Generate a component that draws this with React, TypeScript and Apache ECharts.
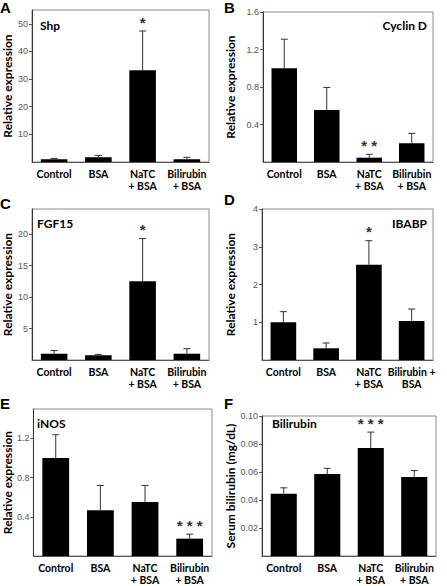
import React, { useEffect, useRef } from "react";
import * as echarts from "echarts";

const categories = ["Control", "BSA", "NaTC\n+ BSA", "Bilirubin\n+ BSA"];
const categoriesD = ["Control", "BSA", "NaTC\n+ BSA", "Bilirubin +\nBSA"];

const shpMean = [1.0, 1.7, 33.2, 1.0];
const shpErr = [0.3, 0.7, 14.2, 0.7];
const shpSig = ["", "", "*", ""];

const cyclinMean = [1.0, 0.555, 0.046, 0.2];
const cyclinErr = [0.31, 0.24, 0.036, 0.106];
const cyclinSig = ["", "", "* *", ""];

const fgfMean = [1.0, 0.75, 12.5, 1.0];
const fgfErr = [0.5, 0.15, 6.8, 0.8];
const fgfSig = ["", "", "*", ""];

const ibabpMean = [1.0, 0.31, 2.52, 1.03];
const ibabpErr = [0.28, 0.14, 0.64, 0.32];
const ibabpSig = ["", "", "*", ""];

const inosMean = [1.0, 0.467, 0.55, 0.177];
const inosErr = [0.237, 0.253, 0.17, 0.046];
const inosSig = ["", "", "", "* * *"];

const biliMean = [0.0445, 0.0586, 0.0772, 0.0565];
const biliErr = [0.0042, 0.004, 0.0113, 0.0045];
const biliSig = ["", "", "* * *", ""];

const panels = [
  { letter: "A", gene: "Shp", geneAlign: "left", cats: categories, mean: shpMean, err: shpErr, sig: shpSig,
    grid: { left: 31, top: 10, width: 178, height: 152 }, max: 55, interval: 10, dec: 0, showMax: false,
    yName: "Relative expression", nameGap: 19, letterPos: [0, 0], genePos: [40, 25] },
  { letter: "B", gene: "Cyclin D", geneAlign: "right", cats: categories, mean: cyclinMean, err: cyclinErr, sig: cyclinSig,
    grid: { left: 263, top: 12, width: 170, height: 150 }, max: 1.6, interval: 0.4, dec: 1, showMax: true,
    yName: "Relative expression", nameGap: 27, letterPos: [224, 0], genePos: [427, 25] },
  { letter: "C", gene: "FGF15", geneAlign: "left", cats: categories, mean: fgfMean, err: fgfErr, sig: fgfSig,
    grid: { left: 31, top: 209, width: 178, height: 151 }, max: 24, interval: 5, dec: 0, showMax: false,
    yName: "Relative expression", nameGap: 19, letterPos: [0, 196], genePos: [37, 223] },
  { letter: "D", gene: "IBABP", geneAlign: "right", cats: categoriesD, mean: ibabpMean, err: ibabpErr, sig: ibabpSig,
    grid: { left: 262, top: 209, width: 171, height: 151 }, max: 4, interval: 1, dec: 0, showMax: true,
    yName: "Relative expression", nameGap: 26, letterPos: [224, 192], genePos: [427, 223] },
  { letter: "E", gene: "iNOS", geneAlign: "left", cats: categories, mean: inosMean, err: inosErr, sig: inosSig,
    grid: { left: 31, top: 409, width: 181, height: 150 }, max: 1.5, interval: 0.4, dec: 1, showMax: false,
    yName: "Relative expression", nameGap: 19, letterPos: [0, 396], genePos: [37, 423] },
  { letter: "F", gene: "Bilirubin", geneAlign: "left", cats: categories, mean: biliMean, err: biliErr, sig: biliSig,
    grid: { left: 262, top: 416, width: 174, height: 144 }, max: 0.1, interval: 0.02, dec: 2, showMax: true,
    yName: "Serum bilirubin (mg/dL)", nameGap: 26, letterPos: [224, 396], genePos: [272, 423] },
];

const FONT = "Liberation Sans, Arial, sans-serif";
const LABEL_FONT = "Lato, 'Open Sans', sans-serif";

export default function App() {
  const ref = useRef<HTMLDivElement>(null);
  useEffect(() => {
    if (!ref.current) return;
    const chart = echarts.init(ref.current, null, { renderer: "svg" });
    const grids: any[] = [];
    const xAxes: any[] = [];
    const yAxes: any[] = [];
    const series: any[] = [];
    const graphic: any[] = [];
    panels.forEach((p, k) => {
      grids.push({ ...p.grid, show: true, borderColor: "#8a8a8a", borderWidth: 1, backgroundColor: "transparent" });
      xAxes.push({
        type: "category", gridIndex: k, data: p.cats,
        axisLine: { lineStyle: { color: "#555", width: 1 } },
        axisTick: { show: false },
        axisLabel: { color: "#000", fontWeight: "bold", fontSize: 10.5, fontFamily: LABEL_FONT, lineHeight: 12, margin: 6, interval: 0 },
      });
      yAxes.push({
        type: "value", gridIndex: k, min: 0, max: p.max, interval: p.interval,
        name: p.yName, nameLocation: "middle", nameGap: p.nameGap,
        nameTextStyle: { fontWeight: "bold", fontSize: 12, fontFamily: LABEL_FONT, color: "#000" },
        splitLine: { show: false },
        axisLine: { show: true, lineStyle: { color: "#333", width: 1 } },
        axisTick: { show: true, length: 3, lineStyle: { color: "#555" } },
        axisLabel: {
          fontSize: 9, color: "#555", fontFamily: FONT, margin: 4,
          showMinLabel: false, showMaxLabel: p.showMax,
          formatter: (v: number) => v.toFixed(p.dec),
        },
      });
      series.push({
        type: "bar", xAxisIndex: k, yAxisIndex: k, data: p.mean, barWidth: "60%",
        itemStyle: { color: "#000" }, z: 2,
      });
      const sig = p.sig;
      series.push({
        type: "custom", xAxisIndex: k, yAxisIndex: k, z: 3, clip: false,
        data: p.mean.map((m, i) => [i, m, m + p.err[i]]),
        encode: { x: 0, y: [1, 2] },
        renderItem: (params: any, api: any) => {
          const i = api.value(0);
          const p0 = api.coord([i, api.value(1)]);
          const p1 = api.coord([i, api.value(2)]);
          const children: any[] = [
            { type: "line", shape: { x1: p0[0], y1: p0[1], x2: p1[0], y2: p1[1] }, style: { stroke: "#333", lineWidth: 1 } },
            { type: "line", shape: { x1: p1[0] - 3.5, y1: p1[1], x2: p1[0] + 3.5, y2: p1[1] }, style: { stroke: "#333", lineWidth: 1 } },
          ];
          const s = sig[params.dataIndex];
          if (s) {
            children.push({
              type: "text", x: p1[0], y: p1[1] - 9,
              style: { text: s, align: "center", verticalAlign: "middle", fontSize: 15, fontWeight: "bold", fontFamily: FONT, fill: "#333" },
            });
          }
          return { type: "group", children };
        },
      });
      graphic.push({
        type: "text", x: p.letterPos[0], y: p.letterPos[1],
        style: { text: p.letter, fontSize: 15, fontWeight: "bold", fontFamily: FONT, fill: "#000" },
      });
      graphic.push({
        type: "text", x: p.genePos[0], y: p.genePos[1],
        style: { text: p.gene, fontSize: 12, fontWeight: "bold", fontFamily: LABEL_FONT, fill: "#000", align: p.geneAlign, verticalAlign: "middle" },
      });
    });
    chart.setOption({
      animation: false,
      backgroundColor: "#fff",
      grid: grids,
      xAxis: xAxes,
      yAxis: yAxes,
      series,
      graphic,
    });
    return () => chart.dispose();
  }, []);
  return <div ref={ref} style={{ position: "fixed", left: 0, top: 0, width: 447, height: 586 }} />;
}
